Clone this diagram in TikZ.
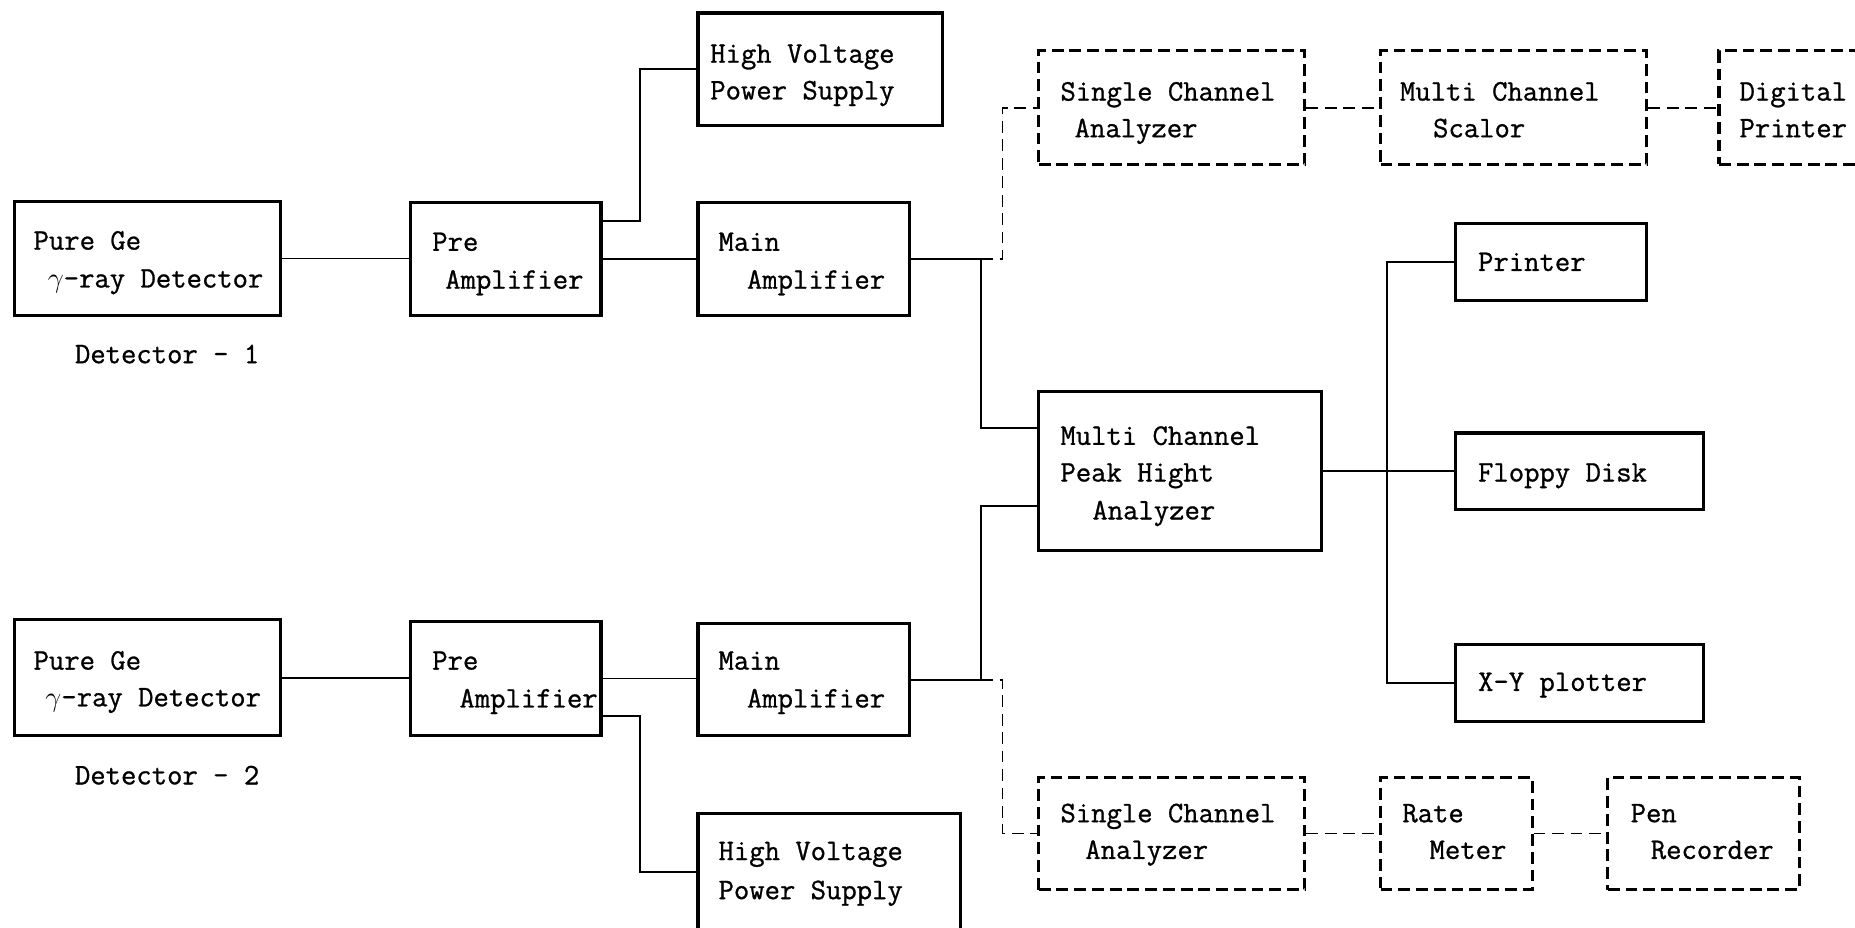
\documentclass[tikz,border=0pt]{standalone}
\usepackage{fontspec}
\newfontfamily\labfont[FakeBold=0.9]{Latin Modern Mono}
\usetikzlibrary{fit,calc}
\tikzset{
  box/.style={draw, line width=1.3pt, inner sep=0pt},
  dbox/.style={box, dash pattern=on 5pt off 2.5pt},
  wire/.style={line width=0.75pt},
  dwire/.style={wire, dash pattern=on 5pt off 2.8pt},
  txt/.style={anchor=base west, inner sep=0pt, font=\labfont\fontsize{12.6}{15}\selectfont},
}
\newcommand\gam{$\gamma$}
\begin{document}
\begin{tikzpicture}[x=0.5pt,y=-0.5pt]
\useasboundingbox (0,0) rectangle (1568,784);
% boxes
\node[box, fit={(12,170)(237,267)}] (det1) {};
\node[box, fit={(347,171)(508,267)}] (pre1) {};
\node[box, fit={(590,171)(769,267)}] (main1) {};
\node[box, fit={(590,11)(797,106)}] (hv1) {};
\node[dbox, fit={(878,43)(1103,139)}] (sca1) {};
\node[dbox, fit={(1167,43)(1392,139)}] (mcs) {};
\node[dbox, fit={(1453,43)(1600,139)}] (dp) {};
\node[box, fit={(1230,189)(1392,254)}] (printer) {};
\node[box, fit={(878,331)(1117,465)}] (mcpha) {};
\node[box, fit={(1230,366)(1440,431)}] (floppy) {};
\node[box, fit={(1230,545)(1440,610)}] (xy) {};
\node[box, fit={(12,524)(237,622)}] (det2) {};
\node[box, fit={(347,525)(508,622)}] (pre2) {};
\node[box, fit={(590,527)(769,622)}] (main2) {};
\node[box, fit={(590,688)(812,786)}] (hv2) {};
\node[dbox, fit={(878,657)(1103,752)}] (sca2) {};
\node[dbox, fit={(1167,657)(1295,752)}] (rate) {};
\node[dbox, fit={(1359,657)(1521,752)}] (pen) {};
% texts
\node[txt] (t1) at (28,211) {Pure Ge};
\node[txt] (t2) at (40,243) {\gam-ray Detector};
\node[txt] (t3) at (63,307) {Detector - 1};
\node[txt] (t4) at (365,212) {Pre};
\node[txt] (t5) at (376,244) {Amplifier};
\node[txt] (t6) at (607,212) {Main};
\node[txt] (t7) at (631,244) {Amplifier};
\node[txt] (t8) at (600,53) {High Voltage};
\node[txt] (t9) at (600,84) {Power Supply};
\node[txt] (t10) at (896,85) {Single Channel};
\node[txt] (t11) at (908,116) {Analyzer};
\node[txt] (t12) at (1183,85) {Multi Channel};
\node[txt] (t13) at (1211,116) {Scalor};
\node[txt] (t14) at (1470,85) {Digital};
\node[txt] (t15) at (1470,116) {Printer};
\node[txt] (t16) at (1249,229) {Printer};
\node[txt] (t17) at (896,376) {Multi Channel};
\node[txt] (t18) at (896,407) {Peak Hight};
\node[txt] (t19) at (923,439) {Analyzer};
\node[txt] (t20) at (1249,407) {Floppy Disk};
\node[txt] (t21) at (1249,584) {X-Y plotter};
\node[txt] (t22) at (28,566) {Pure Ge};
\node[txt] (t23) at (38,597) {\gam-ray Detector};
\node[txt] (t24) at (63,663) {Detector - 2};
\node[txt] (t25) at (365,566) {Pre};
\node[txt] (t26) at (388,598) {Amplifier};
\node[txt] (t27) at (607,566) {Main};
\node[txt] (t28) at (631,598) {Amplifier};
\node[txt] (t29) at (607,727) {High Voltage};
\node[txt] (t30) at (607,760) {Power Supply};
\node[txt] (t31) at (896,695) {Single Channel};
\node[txt] (t32) at (917,726) {Analyzer};
\node[txt] (t33) at (1185,695) {Rate};
\node[txt] (t34) at (1208,726) {Meter};
\node[txt] (t35) at (1378,695) {Pen};
\node[txt] (t36) at (1395,726) {Recorder};
% solid connectors
\draw[wire] (det1.east) -- (det1.east -| pre1.west);
\draw[wire] (pre1.east) -- (pre1.east -| main1.west);
\draw[wire] ([yshift=16pt]pre1.east) -- ++(32,0) |- (hv1.west);
\draw[wire] (main1.east) -- ++(59,0) coordinate (j1) |- ([yshift=18pt]mcpha.west);
\draw[wire] (det2.east) -- (det2.east -| pre2.west);
\draw[wire] (pre2.east) -- (pre2.east -| main2.west);
\draw[wire] ([yshift=-16pt]pre2.east) -- ++(32,0) |- (hv2.west);
\draw[wire] (main2.east) -- ++(59,0) coordinate (j2) |- ([yshift=-15pt]mcpha.west);
\draw[wire] (mcpha.east) -- (mcpha.east -| floppy.west);
\draw[wire] (printer.west) -- ++(-56,0) |- (xy.west);
% dashed connectors
\draw[dwire] (j1) -- ++(18,0) |- (sca1.west);
\draw[dwire] (j2) -- ++(18,0) |- (sca2.west);
\draw[dwire] (sca1.east) -- (sca1.east -| mcs.west);
\draw[dwire] (mcs.east) -- (mcs.east -| dp.west);
\draw[dwire] (sca2.east) -- (sca2.east -| rate.west);
\draw[dwire] (rate.east) -- (rate.east -| pen.west);
\end{tikzpicture}
\end{document}
